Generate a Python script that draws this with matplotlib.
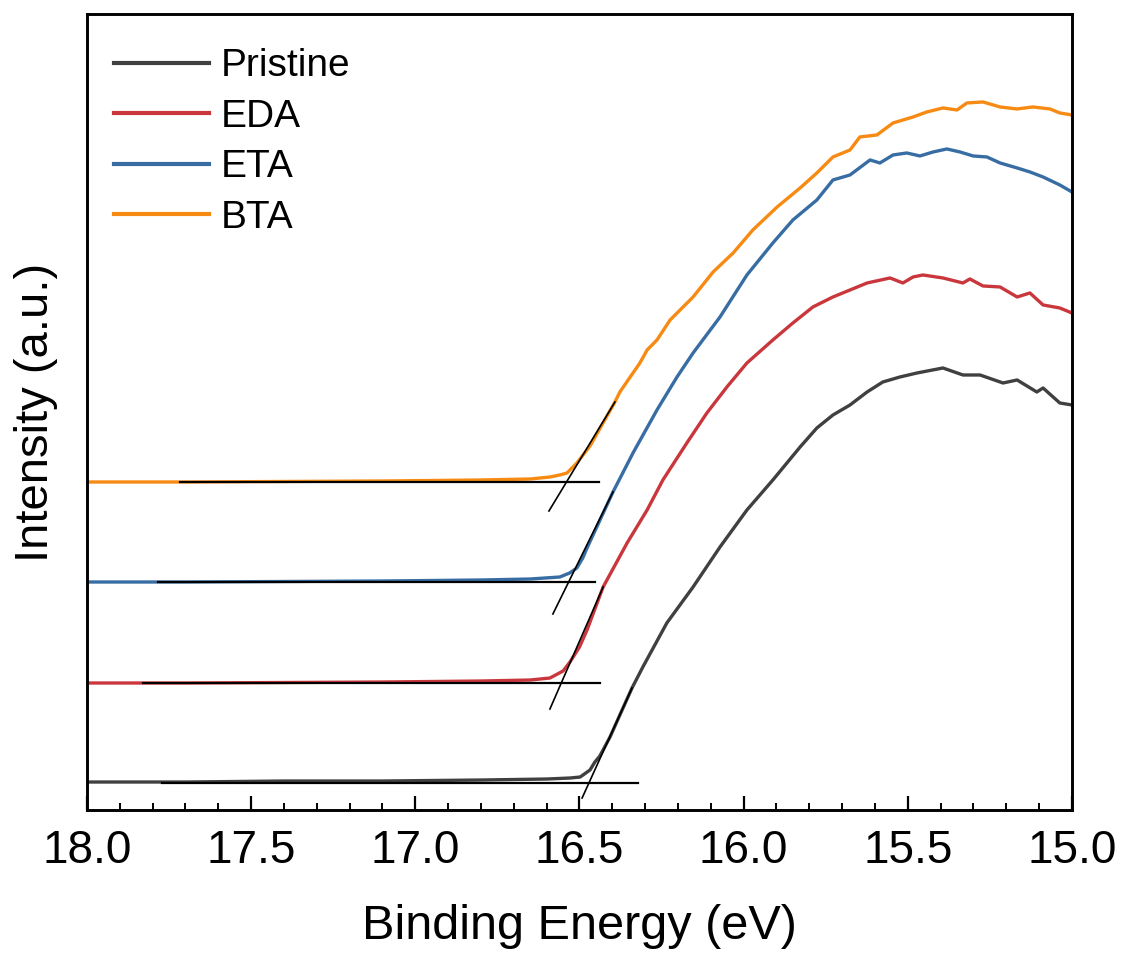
import matplotlib
matplotlib.use("Agg")
import matplotlib.pyplot as plt
from matplotlib.ticker import MultipleLocator, FormatStrFormatter

plt.rcParams['font.family'] = ['Liberation Sans', 'DejaVu Sans']

# UPS secondary-electron cutoff spectra (binding energy in eV, intensity in a.u., offset per sample)
pristine_E = [18.00, 17.70, 17.40, 17.10, 16.80, 16.60, 16.529, 16.498, 16.468, 16.453,
              16.438, 16.407, 16.377, 16.340, 16.307, 16.234, 16.154, 16.072, 15.990,
              15.911, 15.828, 15.777, 15.728, 15.676, 15.624, 15.576, 15.524, 15.472,
              15.393, 15.332, 15.280, 15.210, 15.167, 15.107, 15.088, 15.037, 15.000]
pristine_I = [28, 28, 29, 29, 30, 31, 32, 33, 40, 48,
              54, 73, 95, 122, 143, 187, 223, 263, 300,
              330, 363, 382, 395, 405, 418, 428, 433, 437,
              442, 435, 435, 427, 430, 418, 422, 407, 405]

eda_E = [18.00, 17.70, 17.40, 17.10, 16.80, 16.65, 16.590, 16.550, 16.529, 16.500, 16.477,
         16.428, 16.355, 16.294, 16.246, 16.173, 16.112, 16.051, 15.990, 15.911, 15.850,
         15.789, 15.728, 15.676, 15.624, 15.554, 15.515, 15.484, 15.454, 15.393, 15.332,
         15.311, 15.271, 15.219, 15.167, 15.128, 15.088, 15.037, 15.000]
eda_I = [127, 127, 127.5, 128, 129, 130, 132, 139, 148, 163, 180,
         223, 267, 300, 330, 367, 397, 423, 447, 470, 487,
         503, 513, 520, 527, 532, 527, 533, 535, 532, 527,
         531, 524, 523, 513, 517, 505, 502, 497]

eta_E = [18.00, 17.70, 17.40, 17.10, 16.80, 16.65, 16.560, 16.530, 16.508, 16.490, 16.477,
         16.398, 16.337, 16.264, 16.203, 16.154, 16.072, 15.990, 15.911, 15.850, 15.777,
         15.728, 15.676, 15.615, 15.585, 15.545, 15.503, 15.463, 15.423, 15.381, 15.341,
         15.301, 15.259, 15.219, 15.167, 15.128, 15.088, 15.037, 15.000]
eta_I = [228, 228, 228.5, 229, 230, 231, 233, 237, 242, 252, 262,
         318, 357, 400, 433, 457, 493, 535, 567, 590, 610,
         630, 635, 650, 647, 655, 657, 654, 658, 661, 658,
         654, 653, 647, 642, 638, 633, 625, 618]

bta_E = [18.00, 17.70, 17.40, 17.10, 16.80, 16.65, 16.590, 16.560, 16.538, 16.508, 16.468,
         16.392, 16.377, 16.316, 16.294, 16.264, 16.224, 16.154, 16.093, 16.032, 15.972,
         15.898, 15.828, 15.777, 15.728, 15.676, 15.646, 15.594, 15.545, 15.484, 15.442,
         15.393, 15.350, 15.320, 15.271, 15.219, 15.167, 15.119, 15.067, 15.037, 15.000]
bta_I = [328, 328, 328.5, 329, 330, 331, 333, 335, 337, 347, 364,
         408, 418, 447, 460, 470, 490, 513, 538, 557, 580,
         603, 622, 637, 653, 660, 673, 675, 687, 693, 698,
         702, 700, 707, 708, 703, 701, 703, 701, 697, 695]

labels = ['Pristine', 'EDA', 'ETA', 'BTA']
colors = ['#404040', '#c9373d', '#386da3', '#f78a12']

# Linear fits used for the cutoff extrapolation: baseline (E start, E end, level)
baseline_E0 = [17.772, 17.829, 17.784, 17.717]
baseline_E1 = [16.322, 16.438, 16.453, 16.441]
baseline_I = [27.5, 127.5, 228, 328]
# leading-edge tangent (E low, I low, E high, I high)
tangent_E0 = [16.492, 16.590, 16.581, 16.593]
tangent_I0 = [12, 101, 196, 299]
tangent_E1 = [16.340, 16.428, 16.398, 16.392]
tangent_I1 = [122, 223, 318, 408]

fig = plt.figure(figsize=(11.24, 9.56), dpi=100)
ax = fig.add_axes([0.0774, 0.1527, 0.8763, 0.8327])

series = [(pristine_E, pristine_I), (eda_E, eda_I), (eta_E, eta_I), (bta_E, bta_I)]
for (E, I), lab, col in zip(series, labels, colors):
    ax.plot(E, I, color=col, lw=2.4, label=lab, zorder=2, solid_joinstyle='round')

for i in range(4):
    ax.plot([baseline_E0[i], baseline_E1[i]], [baseline_I[i], baseline_I[i]],
            color='black', lw=1.6, zorder=3)
    ax.plot([tangent_E0[i], tangent_E1[i]], [tangent_I0[i], tangent_I1[i]],
            color='black', lw=1.2, zorder=3)

ax.set_xlim(18.0, 15.0)
ax.set_ylim(0, 796)
ax.set_yticks([])
ax.xaxis.set_major_locator(MultipleLocator(0.5))
ax.xaxis.set_minor_locator(MultipleLocator(0.1))
ax.xaxis.set_major_formatter(FormatStrFormatter('%.1f'))
ax.tick_params(axis='x', which='major', direction='in', length=10, width=1.6,
               labelsize=33, pad=14)
ax.tick_params(axis='x', which='minor', direction='in', length=5, width=1.4)
for sp in ax.spines.values():
    sp.set_linewidth(2.1)

ax.set_xlabel('Binding Energy (eV)', fontsize=35, labelpad=22)
ax.set_ylabel('Intensity (a.u.)', fontsize=34, labelpad=21)

leg = ax.legend(loc='upper left', bbox_to_anchor=(0.0, 0.991), frameon=False,
                fontsize=28, handlelength=2.45, handletextpad=0.3,
                labelspacing=0.37, borderaxespad=0.3)
for h in leg.get_lines():
    h.set_linewidth(3)

fig.savefig('out.png', dpi=100)
